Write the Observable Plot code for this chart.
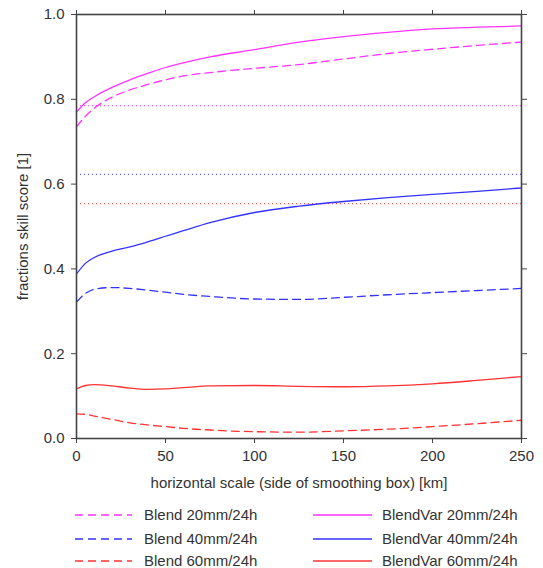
<!DOCTYPE html>
<html><head><meta charset="utf-8">
<script src="https://cdn.jsdelivr.net/npm/d3@7"></script>
<script src="https://cdn.jsdelivr.net/npm/@observablehq/plot@0.6"></script>
<style>
body{margin:0;background:#fff;font-family:"Liberation Sans",Arial,sans-serif;}
#chart{width:543px;}
#chart svg{display:block;}
</style></head><body><div id="chart"></div>
<script>
// horizontal scale (km)
const scales = [0,5,10,20,30,40,50,60,75,100,125,150,175,200,225,250];
// fractions skill score per series
const blend20    = [0.735,0.760,0.779,0.805,0.822,0.835,0.846,0.855,0.863,0.873,0.882,0.895,0.908,0.918,0.927,0.935];
const blend40    = [0.322,0.342,0.352,0.356,0.354,0.350,0.345,0.340,0.335,0.329,0.328,0.333,0.339,0.344,0.349,0.354];
const blend60    = [0.058,0.057,0.053,0.045,0.037,0.032,0.028,0.024,0.020,0.016,0.015,0.018,0.022,0.028,0.035,0.043];
const blendVar20 = [0.770,0.792,0.806,0.828,0.846,0.861,0.875,0.886,0.900,0.917,0.935,0.948,0.958,0.966,0.970,0.973];
const blendVar40 = [0.388,0.413,0.427,0.442,0.452,0.464,0.477,0.490,0.509,0.533,0.548,0.559,0.568,0.576,0.583,0.591];
const blendVar60 = [0.117,0.125,0.127,0.124,0.119,0.116,0.117,0.120,0.124,0.125,0.123,0.122,0.124,0.129,0.137,0.146];
const seriesNames  = ["Blend 20mm/24h","Blend 40mm/24h","Blend 60mm/24h","BlendVar 20mm/24h","BlendVar 40mm/24h","BlendVar 60mm/24h"];
const seriesValues = [blend20, blend40, blend60, blendVar20, blendVar40, blendVar60];
const seriesColors = ["#ff33ff","#3333ff","#ff3333","#ff33ff","#3333ff","#ff3333"];
const seriesDashed = [true,true,true,false,false,false];
// dotted reference levels
const refLevels = [0.785, 0.623, 0.554];
const refColors = ["#ff55ff","#5555ff","#ff5555"];
const xTicks = [0,50,100,150,200,250];
const yTicks = [0,0.2,0.4,0.6,0.8,1.0];
const xLabel = "horizontal scale (side of smoothing box) [km]";
const yLabel = "fractions skill score [1]";

const marks = [];
refLevels.forEach((v,i) => marks.push(Plot.ruleY([v], {stroke: refColors[i], strokeWidth: 1.2, strokeDasharray: "1,3"})));
seriesValues.forEach((vals,i) => {
  const rows = scales.map((x,j) => ({x, y: vals[j]}));
  marks.push(Plot.line(rows, {x: "x", y: "y", stroke: seriesColors[i], strokeWidth: 1.3,
    strokeDasharray: seriesDashed[i] ? "8,5" : null, curve: "monotone-x"}));
});
marks.push(
  Plot.axisX({anchor: "bottom", ticks: xTicks, tickSize: 5, tickPadding: 7, label: null, stroke: "#444"}),
  Plot.axisX({anchor: "top", ticks: xTicks, tickSize: 5, tickFormat: () => "", label: null, stroke: "#444"}),
  Plot.axisY({anchor: "left", ticks: yTicks, tickSize: 5, tickPadding: 7, tickFormat: d3.format(".1f"), label: null, stroke: "#444"}),
  Plot.axisY({anchor: "right", ticks: yTicks, tickSize: 5, tickFormat: () => "", label: null, stroke: "#444"}),
  Plot.frame({stroke: "#444", strokeWidth: 1.6}),
  Plot.text([xLabel], {frameAnchor: "bottom", dy: 45, lineAnchor: "middle", textAnchor: "middle", fill: "#333"}),
  Plot.text([yLabel], {frameAnchor: "left", dx: -53, rotate: -90, lineAnchor: "middle", textAnchor: "middle", fill: "#333"})
);

const chart = Plot.plot({
  width: 543, height: 500,
  marginTop: 14, marginBottom: 62, marginLeft: 76, marginRight: 22,
  x: {domain: [0,250]},
  y: {domain: [0,1]},
  style: {fontSize: "15px", fontFamily: "'Liberation Sans', Arial, sans-serif", color: "#333", background: "white"},
  marks
});
document.getElementById("chart").appendChild(chart);

// legend
const leg = d3.select("#chart").append("svg").attr("width",543).attr("height",68)
  .style("font-family","'Liberation Sans', Arial, sans-serif").style("font-size","15px");
const colX = [[75,132,144],[313,372,382]];
const rowY = [15,39,61];
seriesNames.forEach((name,i) => {
  const c = colX[Math.floor(i/3)], y = rowY[i%3];
  leg.append("line").attr("x1",c[0]).attr("x2",c[1]).attr("y1",y).attr("y2",y)
    .attr("stroke",seriesColors[i]).attr("stroke-width",1.3)
    .attr("stroke-dasharray", seriesDashed[i] ? "8,5" : null);
  leg.append("text").attr("x",c[2]).attr("y",y).attr("dy","0.35em").attr("fill","#333").text(name);
});
</script></body></html>
